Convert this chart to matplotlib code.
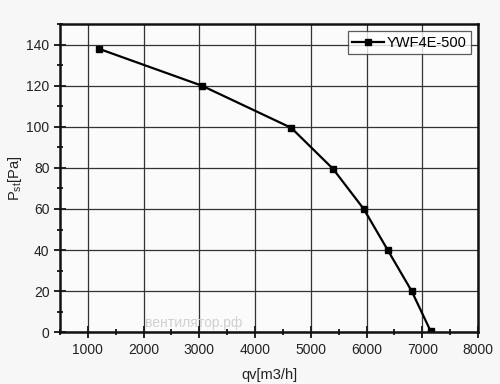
import numpy as np
import matplotlib.pyplot as plt
from matplotlib.ticker import MultipleLocator

plt.rcParams['font.family'] = ['Liberation Sans', 'DejaVu Sans']
plt.rcParams['mathtext.fontset'] = 'custom'
plt.rcParams['mathtext.rm'] = 'Liberation Sans'

# fan curve data
qv = [1200, 3050, 4650, 5400, 5950, 6380, 6810, 7150]
pst = [138, 120, 99.5, 79.5, 60, 40, 20, 0.5]
label = 'YWF4E-500'

fig = plt.figure(figsize=(5, 3.84), dpi=100, facecolor='#f7f7f7')
ax = fig.add_axes([0.12, 0.135, 0.836, 0.802])
ax.set_facecolor('#fbfbfb')

ax.plot(qv, pst, color='black', lw=1.6, marker='s', ms=5, label=label)

ax.set_xlim(500, 8000)
ax.set_ylim(0, 150)
ax.xaxis.set_major_locator(MultipleLocator(1000))
ax.xaxis.set_minor_locator(MultipleLocator(500))
ax.yaxis.set_major_locator(MultipleLocator(20))
ax.yaxis.set_minor_locator(MultipleLocator(10))
ax.grid(True, which='major', color='#333333', lw=0.9)

ax.tick_params(which='major', direction='inout', length=8, width=1.4,
               labelsize=10, colors='#222222')
ax.tick_params(which='minor', direction='inout', length=5, width=1.2)
for s in ax.spines.values():
    s.set_linewidth(1.8)
    s.set_color('#111111')

ax.set_xlabel('qv[m3/h]', fontsize=10.5, color='#222222', labelpad=8)
ax.set_ylabel(r'P$_{\rm st}$[Pa]', fontsize=10.5, color='#222222', labelpad=2)

leg = ax.legend(loc='upper right', fontsize=10.5, frameon=True, fancybox=False,
                handlelength=2.2, handletextpad=0.15, borderpad=0.3,
                borderaxespad=0.5)
leg.get_frame().set_edgecolor('#333333')
leg.get_frame().set_linewidth(0.9)

# watermark
ax.text(2900, 4.5, 'вентилятор.рф', fontsize=10, color='#d0d0d0',
        ha='center', va='center')

fig.savefig('out.png', dpi=100, facecolor=fig.get_facecolor())
